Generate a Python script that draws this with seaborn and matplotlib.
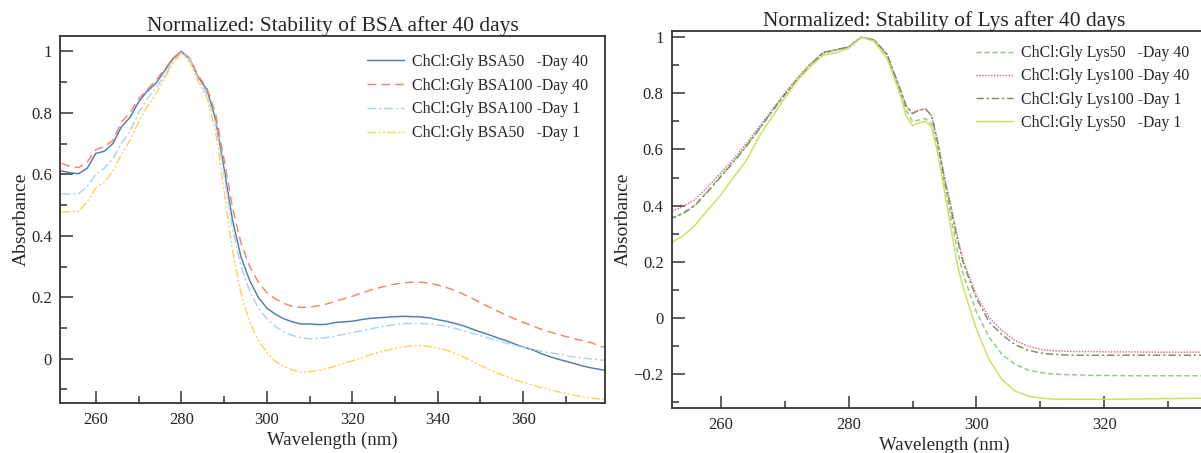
import numpy as np
import pandas as pd
import matplotlib
matplotlib.use("Agg")
import matplotlib.pyplot as plt
from matplotlib.ticker import MultipleLocator, FuncFormatter
import seaborn as sns

# ---------------- data: BSA panel ----------------
bsa_wl = [252, 254, 256, 258, 260, 262, 264, 266, 268, 270, 272, 274, 276, 278, 280,
          282, 284, 286, 288, 290, 292, 294, 296, 298, 300, 302, 304, 306, 308, 310,
          312, 314, 316, 318, 320, 322, 324, 326, 328, 330, 332, 334, 336, 338, 340,
          342, 344, 346, 348, 350, 352, 354, 356, 358, 360, 362, 364, 366, 368, 370,
          372, 374, 376, 378, 380]
bsa50_d40 = [0.611, 0.605, 0.602, 0.62, 0.668, 0.675, 0.70, 0.755, 0.785, 0.835, 0.87, 0.895, 0.935, 0.975, 1.0,
             0.975, 0.915, 0.875, 0.78, 0.62, 0.45, 0.33, 0.255, 0.20, 0.165, 0.145, 0.13, 0.12, 0.113, 0.113,
             0.111, 0.112, 0.118, 0.12, 0.122, 0.127, 0.131, 0.133, 0.135, 0.137, 0.138, 0.137, 0.136, 0.133, 0.127,
             0.122, 0.115, 0.107, 0.097, 0.087, 0.078, 0.068, 0.059, 0.048, 0.038, 0.030, 0.018, 0.008, -0.001, -0.008,
             -0.016, -0.024, -0.030, -0.035, -0.040]
bsa100_d40 = [0.636, 0.625, 0.622, 0.64, 0.68, 0.69, 0.71, 0.77, 0.80, 0.845, 0.875, 0.905, 0.94, 0.978, 1.0,
              0.978, 0.92, 0.88, 0.80, 0.65, 0.49, 0.375, 0.30, 0.25, 0.215, 0.195, 0.18, 0.17, 0.167, 0.168,
              0.172, 0.178, 0.187, 0.195, 0.203, 0.213, 0.222, 0.23, 0.237, 0.243, 0.247, 0.249, 0.249, 0.246, 0.24,
              0.232, 0.222, 0.21, 0.197, 0.182, 0.168, 0.155, 0.142, 0.13, 0.118, 0.108, 0.097, 0.088, 0.08, 0.072,
              0.065, 0.058, 0.052, 0.040, 0.036]
bsa100_d1 = [0.537, 0.535, 0.537, 0.56, 0.60, 0.62, 0.65, 0.70, 0.74, 0.80, 0.845, 0.88, 0.92, 0.965, 0.995,
             0.975, 0.91, 0.86, 0.77, 0.60, 0.42, 0.30, 0.22, 0.165, 0.13, 0.105, 0.088, 0.076, 0.068, 0.065,
             0.066, 0.069, 0.074, 0.079, 0.085, 0.09, 0.096, 0.102, 0.107, 0.111, 0.114, 0.115, 0.115, 0.113, 0.11,
             0.105, 0.099, 0.091, 0.083, 0.075, 0.067, 0.059, 0.051, 0.044, 0.037, 0.031, 0.025, 0.02, 0.015, 0.01,
             0.006, 0.002, -0.001, -0.004, -0.006]
bsa50_d1 = [0.478, 0.478, 0.48, 0.51, 0.555, 0.575, 0.61, 0.665, 0.71, 0.77, 0.82, 0.86, 0.91, 0.96, 0.995,
            0.965, 0.90, 0.85, 0.74, 0.55, 0.35, 0.21, 0.12, 0.06, 0.02, -0.008, -0.025, -0.037, -0.043, -0.042,
            -0.038, -0.032, -0.024, -0.015, -0.007, 0.002, 0.012, 0.02, 0.027, 0.033, 0.039, 0.042, 0.043, 0.04, 0.035,
            0.028, 0.018, 0.006, -0.008, -0.022, -0.035, -0.047, -0.058, -0.068, -0.077, -0.085, -0.093, -0.1, -0.107, -0.113,
            -0.119, -0.124, -0.128, -0.131, -0.133]
bsa_labels = ["ChCl:Gly BSA50   -Day 40", "ChCl:Gly BSA100 -Day 40",
              "ChCl:Gly BSA100 -Day 1", "ChCl:Gly BSA50   -Day 1"]

# ---------------- data: Lys panel ----------------
lys_wl = [252, 254, 256, 258, 260, 262, 264, 266, 268, 270, 272, 274, 276, 278, 280,
          282, 284, 286, 288, 289, 290, 291, 292, 293, 294, 295, 296, 297, 298, 300,
          302, 304, 306, 308, 310, 312, 314, 316, 318, 320, 324, 328, 332, 336, 340]
lys50_d40 = [0.355, 0.372, 0.402, 0.452, 0.505, 0.557, 0.612, 0.672, 0.733, 0.793, 0.848, 0.898, 0.942, 0.955, 0.965,
             1.0, 0.99, 0.935, 0.81, 0.74, 0.70, 0.705, 0.71, 0.69, 0.60, 0.48, 0.36, 0.24, 0.15, 0.02,
             -0.07, -0.13, -0.165, -0.185, -0.195, -0.20, -0.202, -0.203, -0.205, -0.205, -0.206, -0.206, -0.206, -0.206, -0.206]
lys100_d40 = [0.377, 0.395, 0.422, 0.467, 0.516, 0.566, 0.621, 0.68, 0.74, 0.80, 0.855, 0.905, 0.945, 0.955, 0.965,
              1.0, 0.99, 0.94, 0.82, 0.755, 0.73, 0.74, 0.745, 0.72, 0.62, 0.50, 0.40, 0.29, 0.20, 0.08,
              0.0, -0.045, -0.08, -0.10, -0.112, -0.117, -0.119, -0.12, -0.12, -0.121, -0.121, -0.122, -0.122, -0.122, -0.122]
lys100_d1 = [0.352, 0.37, 0.40, 0.45, 0.502, 0.555, 0.61, 0.672, 0.735, 0.795, 0.85, 0.90, 0.945, 0.955, 0.965,
             1.0, 0.99, 0.94, 0.82, 0.755, 0.728, 0.74, 0.745, 0.72, 0.62, 0.495, 0.39, 0.28, 0.19, 0.07,
             -0.015, -0.06, -0.095, -0.115, -0.125, -0.13, -0.132, -0.133, -0.133, -0.133, -0.133, -0.133, -0.133, -0.133, -0.133]
lys50_d1 = [0.265, 0.29, 0.33, 0.385, 0.437, 0.50, 0.56, 0.645, 0.715, 0.782, 0.845, 0.895, 0.935, 0.945, 0.96,
            1.0, 0.985, 0.925, 0.80, 0.72, 0.685, 0.695, 0.70, 0.68, 0.58, 0.45, 0.32, 0.19, 0.10, -0.04,
            -0.15, -0.22, -0.26, -0.278, -0.286, -0.289, -0.29, -0.29, -0.29, -0.29, -0.289, -0.288, -0.287, -0.286, -0.285]
lys_labels = ["ChCl:Gly Lys50   -Day 40", "ChCl:Gly Lys100 -Day 40",
              "ChCl:Gly Lys100 -Day 1", "ChCl:Gly Lys50   -Day 1"]

# ---------------- style ----------------
sns.set_style("ticks")
plt.rcParams["font.family"] = ["Liberation Serif", "DejaVu Serif"]
plt.rcParams["axes.unicode_minus"] = True

bsa_colors = ["#4f7cae", "#f5846c", "#a9d3f5", "#fdd35c"]
bsa_dashes = ["", (6, 3.5), (6, 2, 1.5, 2), (6, 1.5, 1.5, 1.5, 1.5, 1.5)]
lys_colors = ["#93c97e", "#c9738f", "#808c62", "#c9e25c"]
lys_dashes = [(3.5, 2), (1, 1), (5, 2, 1.5, 2), ""]


def long_frame(wl, series, labels):
    parts = []
    for vals, lab in zip(series, labels):
        parts.append(pd.DataFrame({"wl": wl, "abs": vals, "sample": lab}))
    return pd.concat(parts, ignore_index=True)


def fmt_num(v, pos):
    s = f"{v:g}"
    return s.replace("-", "\u2212")


def style_axes(ax, ylim, xlim, title):
    ax.set_xlim(*xlim)
    ax.set_ylim(*ylim)
    ax.xaxis.set_major_locator(MultipleLocator(20))
    ax.xaxis.set_minor_locator(MultipleLocator(10))
    ax.yaxis.set_major_locator(MultipleLocator(0.2))
    ax.yaxis.set_minor_locator(MultipleLocator(0.1))
    ax.yaxis.set_major_formatter(FuncFormatter(fmt_num))
    ax.tick_params(which="major", direction="in", length=9, width=1.1, color="#333333",
                   labelsize=12, pad=6, top=False, right=False)
    ax.tick_params(which="minor", direction="in", length=5, width=1.1, color="#333333",
                   top=False, right=False)
    for sp in ax.spines.values():
        sp.set_visible(True)
        sp.set_linewidth(1.3)
        sp.set_color("#333333")
    ax.set_xlabel("Wavelength (nm)", fontsize=13.5, labelpad=3)
    ax.set_ylabel("Absorbance", fontsize=14, labelpad=1)
    ax.set_title(title, fontsize=15.5, pad=3)


fig = plt.figure(figsize=(12.01, 4.53), dpi=100)
ax1 = fig.add_axes([60.3 / 1201, (453 - 403.3) / 453, 545 / 1201, 367.3 / 453])
ax2 = fig.add_axes([672 / 1201, (453 - 408.3) / 453, 545 / 1201, 377.3 / 453])

df1 = long_frame(bsa_wl, [bsa50_d40, bsa100_d40, bsa100_d1, bsa50_d1], bsa_labels)
sns.lineplot(data=df1, x="wl", y="abs", hue="sample", style="sample",
             hue_order=bsa_labels, style_order=bsa_labels,
             palette=dict(zip(bsa_labels, bsa_colors)),
             dashes=dict(zip(bsa_labels, bsa_dashes)),
             linewidth=1.05, ax=ax1, sort=False)
style_axes(ax1, (-0.145, 1.05), (251.7, 379.2), "Normalized: Stability of BSA after 40 days")
h, l = ax1.get_legend_handles_labels()
ax1.legend(h, l, loc="upper left", bbox_to_anchor=(0.563, 0.952), frameon=False,
           fontsize=11.4, handlelength=2.3, handletextpad=0.55, labelspacing=0.5,
           borderpad=0, borderaxespad=0)

df2 = long_frame(lys_wl, [lys50_d40, lys100_d40, lys100_d1, lys50_d1], lys_labels)
sns.lineplot(data=df2, x="wl", y="abs", hue="sample", style="sample",
             hue_order=lys_labels, style_order=lys_labels,
             palette=dict(zip(lys_labels, lys_colors)),
             dashes=dict(zip(lys_labels, lys_dashes)),
             linewidth=1.05, ax=ax2, sort=False)
style_axes(ax2, (-0.322, 1.022), (252.4, 337.6), "Normalized: Stability of Lys after 40 days")
h, l = ax2.get_legend_handles_labels()
ax2.legend(h, l, loc="upper left", bbox_to_anchor=(0.558, 0.962), frameon=False,
           fontsize=11.4, handlelength=2.3, handletextpad=0.55, labelspacing=0.45,
           borderpad=0, borderaxespad=0)

fig.savefig("out.png", dpi=100)
